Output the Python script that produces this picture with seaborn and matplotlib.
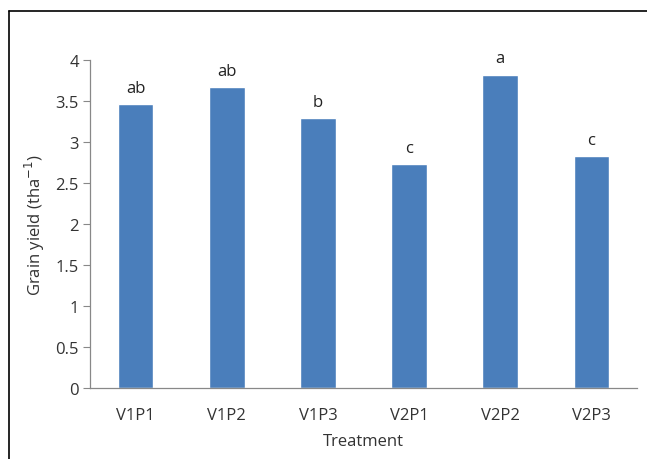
import matplotlib
matplotlib.use("Agg")
import matplotlib.pyplot as plt
import seaborn as sns
import pandas as pd

treatments = ["V1P1", "V1P2", "V1P3", "V2P1", "V2P2", "V2P3"]
grain_yield = [3.46, 3.67, 3.29, 2.73, 3.82, 2.83]
letters = ["ab", "ab", "b", "c", "a", "c"]

sns.set_theme(style="white")
plt.rcParams['font.family'] = ['Open Sans', 'DejaVu Sans']

df = pd.DataFrame({"Treatment": treatments, "Yield": grain_yield})

fig = plt.figure(figsize=(6.47, 4.60), dpi=100)
ax = fig.add_axes([90/647, 1-389/460, 547/647, 328/460])
sns.barplot(data=df, x="Treatment", y="Yield", color="#4a7ebb", saturation=1,
            width=0.39, ax=ax)

fs = 12
for i, (v, t) in enumerate(zip(grain_yield, letters)):
    ax.annotate(t, (i, v), xytext=(0, 6), textcoords="offset points",
                ha="center", va="bottom", fontsize=fs, color="#222222")

ax.set_ylim(0, 4)
ax.set_yticks([0, 0.5, 1, 1.5, 2, 2.5, 3, 3.5, 4])
ax.set_yticklabels(["0", "0.5", "1", "1.5", "2", "2.5", "3", "3.5", "4"])
ax.set_xlim(-0.5, 5.5)
ax.tick_params(axis="y", which="both", left=True, length=5, width=0.8,
               color="#888888", labelsize=fs, labelcolor="#333333", pad=3)
ax.tick_params(axis="x", bottom=False, labelsize=fs, labelcolor="#333333", pad=8)
for s in ["top", "right"]:
    ax.spines[s].set_visible(False)
for s in ["left", "bottom"]:
    ax.spines[s].set_color("#888888")
    ax.spines[s].set_linewidth(0.9)
ax.set_xlabel("Treatment", fontsize=fs, color="#333333", labelpad=7)
ax.set_ylabel("Grain yield (tha$^{-1}$)", fontsize=fs, color="#333333", labelpad=6)

# outer frame
fig.add_artist(plt.Line2D([9/647, 9/647], [0, 1-12/460], color="black", lw=1.2,
                          transform=fig.transFigure))
fig.add_artist(plt.Line2D([9/647, 1], [1-12/460, 1-12/460], color="black", lw=1.2,
                          transform=fig.transFigure))

fig.savefig("out.png", dpi=100)
